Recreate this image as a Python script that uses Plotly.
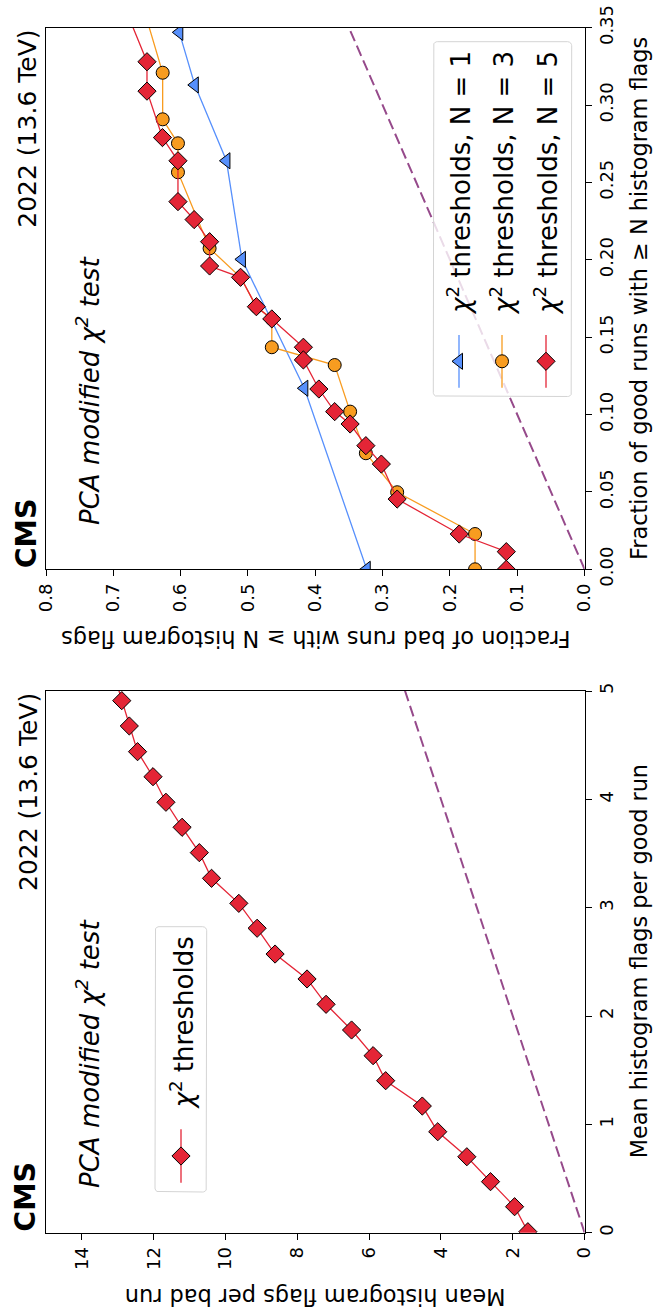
import plotly.graph_objects as go

W, H = 653, 1313

# ---------------- data ----------------
# Right-hand (top) panel: fraction of good runs (orig x) vs fraction of bad runs (orig y)
n1_good = [0.347, 0.313, 0.264, 0.2003, 0.117, 0.0]
n1_bad = [0.602, 0.579, 0.532, 0.509, 0.4163, 0.3236]

n3_good = [0.355, 0.3209, 0.2908, 0.2753, 0.2566, 0.2074, 0.1887, 0.1697, 0.1618,
           0.1435, 0.1320, 0.1019, 0.0750, 0.0498, 0.0228, 0.0]
n3_bad = [0.650, 0.6267, 0.6267, 0.604, 0.604, 0.557, 0.511, 0.4875, 0.4646,
          0.4646, 0.3712, 0.3483, 0.3249, 0.2784, 0.1627, 0.1627]

n5_good = [0.36, 0.328, 0.309, 0.279, 0.264, 0.2376, 0.226, 0.2117, 0.196, 0.1887,
           0.1697, 0.1618, 0.1435, 0.1353, 0.1165, 0.1019, 0.0939, 0.0799, 0.0680,
           0.0454, 0.0228, 0.0114, 0.0]
n5_bad = [0.68, 0.650, 0.650, 0.627, 0.604, 0.604, 0.580, 0.557, 0.557, 0.511,
          0.4875, 0.4646, 0.4177, 0.4177, 0.3947, 0.3712, 0.3483, 0.3249, 0.3019,
          0.2784, 0.1862, 0.1163, 0.1163]

diag_frac = [0.0, 1.0]

# Left-hand (bottom) panel: mean flags per good run vs mean flags per bad run
mean_good = [5.145, 4.911, 4.677, 4.440, 4.209, 3.973, 3.742, 3.508, 3.271, 3.040,
             2.810, 2.572, 2.342, 2.108, 1.871, 1.634, 1.403, 1.169, 0.932, 0.701,
             0.471, 0.240, 0.009]
mean_bad = [13.10, 12.89, 12.68, 12.45, 12.02, 11.66, 11.21, 10.73, 10.39, 9.63,
            9.12, 8.62, 7.73, 7.20, 6.49, 5.89, 5.54, 4.52, 4.09, 3.28,
            2.62, 1.95, 1.58]
diag_mean = [0.0, 20.0]

frac_ticks = [0.0, 0.1, 0.2, 0.3, 0.4, 0.5, 0.6, 0.7, 0.8]
good_frac_ticks = [0.0, 0.05, 0.10, 0.15, 0.20, 0.25, 0.30, 0.35]
mean_bad_ticks = [0, 2, 4, 6, 8, 10, 12, 14]
mean_good_ticks = [0, 1, 2, 3, 4, 5]

leg_top_labels = ["<i>χ</i><sup>2</sup> thresholds, N = 1",
                  "<i>χ</i><sup>2</sup> thresholds, N = 3",
                  "<i>χ</i><sup>2</sup> thresholds, N = 5"]
leg_bot_label = "<i>χ</i><sup>2</sup> thresholds"

# ---------------- style ----------------
BLUE, ORANGE, RED, PURPLE = "#5790fc", "#f89c20", "#e42536", "#964a8b"
FONT = "DejaVu Sans"

# page-pixel geometry
PX_L, PX_R = 46.0, 584.6
TOP_T, TOP_B = 27.7, 569.3
BOT_T, BOT_B = 691.0, 1232.7


def px(x):
    return x / W


def py(y):
    return 1 - y / H


fig = go.Figure()

# ---------- top panel (fractions) ----------
fig.add_trace(go.Scatter(x=diag_frac, y=diag_frac, mode="lines",
                         line=dict(color=PURPLE, width=2, dash="11px,5px"),
                         xaxis="x", yaxis="y", showlegend=False, hoverinfo="skip"))
fig.add_trace(go.Scatter(x=n1_bad, y=n1_good, mode="lines+markers",
                         line=dict(color=BLUE, width=1.3),
                         marker=dict(symbol="triangle-left", size=14, color=BLUE,
                                     line=dict(color="black", width=1)),
                         xaxis="x", yaxis="y", showlegend=False))
fig.add_trace(go.Scatter(x=n3_bad, y=n3_good, mode="lines+markers",
                         line=dict(color=ORANGE, width=1.3),
                         marker=dict(symbol="circle", size=13, color=ORANGE,
                                     line=dict(color="black", width=1)),
                         xaxis="x", yaxis="y", showlegend=False))
fig.add_trace(go.Scatter(x=n5_bad, y=n5_good, mode="lines+markers",
                         line=dict(color=RED, width=1.3),
                         marker=dict(symbol="diamond", size=14, color=RED,
                                     line=dict(color="black", width=1)),
                         xaxis="x", yaxis="y", showlegend=False))

# ---------- bottom panel (means) ----------
fig.add_trace(go.Scatter(x=diag_mean, y=diag_mean, mode="lines",
                         line=dict(color=PURPLE, width=2, dash="11px,5px"),
                         xaxis="x2", yaxis="y2", showlegend=False, hoverinfo="skip"))
fig.add_trace(go.Scatter(x=mean_bad, y=mean_good, mode="lines+markers",
                         line=dict(color=RED, width=1.3),
                         marker=dict(symbol="diamond", size=14, color=RED,
                                     line=dict(color="black", width=1)),
                         xaxis="x2", yaxis="y2", showlegend=False))


# ---------- hand-drawn rotated legends (overlay axes in page pixels) ----------
def rounded_rect(x0, x1, y0, y1, r=4, n=6):
    import math
    xs, ys = [], []
    corners = [(x1 - r, y0 + r, -90, 0), (x1 - r, y1 - r, 0, 90),
               (x0 + r, y1 - r, 90, 180), (x0 + r, y0 + r, 180, 270)]
    for cx, cy, a0, a1 in corners:
        for i in range(n + 1):
            a = math.radians(a0 + (a1 - a0) * i / n)
            xs.append(cx + r * math.cos(a))
            ys.append(cy + r * math.sin(a))
    xs.append(xs[0])
    ys.append(ys[0])
    return xs, ys


bx, by = rounded_rect(433.3, 571.7, 41.7, 396.5)
fig.add_trace(go.Scatter(x=bx, y=by, mode="lines", fill="toself",
                         fillcolor="rgba(255,255,255,0.8)",
                         line=dict(color="#d4d4d4", width=1),
                         xaxis="x3", yaxis="y3", showlegend=False, hoverinfo="skip"))
leg_rows = [(459.0, BLUE, "triangle-left", 14), (502.0, ORANGE, "circle", 13),
            (546.0, RED, "diamond", 14)]
for (lx, col, sym, sz) in leg_rows:
    fig.add_trace(go.Scatter(x=[lx, lx], y=[335, 387.7], mode="lines",
                             line=dict(color=col, width=1.3),
                             xaxis="x3", yaxis="y3", showlegend=False, hoverinfo="skip"))
    fig.add_trace(go.Scatter(x=[lx], y=[361.3], mode="markers",
                             marker=dict(symbol=sym, size=sz, color=col,
                                         line=dict(color="black", width=1)),
                             xaxis="x3", yaxis="y3", showlegend=False, hoverinfo="skip"))

bx2, by2 = rounded_rect(155.0, 206.7, 926.7, 1192.0)
fig.add_trace(go.Scatter(x=bx2, y=by2, mode="lines", fill="toself",
                         fillcolor="rgba(255,255,255,0.8)",
                         line=dict(color="#d4d4d4", width=1),
                         xaxis="x4", yaxis="y4", showlegend=False, hoverinfo="skip"))
fig.add_trace(go.Scatter(x=[181, 181], y=[1129.3, 1182.7], mode="lines",
                         line=dict(color=RED, width=1.3),
                         xaxis="x4", yaxis="y4", showlegend=False, hoverinfo="skip"))
fig.add_trace(go.Scatter(x=[181], y=[1156], mode="markers",
                         marker=dict(symbol="diamond", size=14, color=RED,
                                     line=dict(color="black", width=1)),
                         xaxis="x4", yaxis="y4", showlegend=False, hoverinfo="skip"))

# ---------------- axes ----------------
common = dict(showline=True, linecolor="black", linewidth=1.2, mirror=True,
              ticks="outside", ticklen=6, tickwidth=1.2, tickcolor="black",
              showgrid=False, zeroline=False, tickangle=-90, automargin=False,
              tickfont=dict(family=FONT, size=18, color="black"))
hidden = dict(visible=False, automargin=False, showgrid=False, zeroline=False)
xdom = [px(PX_L), px(PX_R)]

fig.update_layout(
    template="none",
    width=W, height=H,
    margin=dict(l=0, r=0, t=0, b=0, pad=0, autoexpand=False),
    paper_bgcolor="white", plot_bgcolor="rgba(0,0,0,0)",
    showlegend=False,
    xaxis=dict(domain=xdom, range=[0.8, 0.0], anchor="y", side="bottom",
               tickvals=frac_ticks, tickformat=".1f", **common),
    yaxis=dict(domain=[py(TOP_B), py(TOP_T)], range=[0.0, 0.35], anchor="x", side="right",
               tickvals=good_frac_ticks, tickformat=".2f", **common),
    xaxis2=dict(domain=xdom, range=[15, 0], anchor="y2", side="bottom",
                tickvals=mean_bad_ticks, **common),
    yaxis2=dict(domain=[py(BOT_B), py(BOT_T)], range=[0, 5], anchor="x2", side="right",
                tickvals=mean_good_ticks, **common),
    xaxis3=dict(overlaying="x", range=[PX_L, PX_R], anchor="y3", **hidden),
    yaxis3=dict(overlaying="y", range=[TOP_B, TOP_T], anchor="x3", **hidden),
    xaxis4=dict(overlaying="x2", range=[PX_L, PX_R], anchor="y4", **hidden),
    yaxis4=dict(overlaying="y2", range=[BOT_B, BOT_T], anchor="x4", **hidden),
)


def ann(text, x, y, size, angle=-90, xanchor="center", yanchor="middle", bold=False):
    fig.add_annotation(text=("<b>%s</b>" % text) if bold else text,
                       x=px(x), y=py(y), xref="paper", yref="paper",
                       showarrow=False, textangle=angle,
                       xanchor=xanchor, yanchor=yanchor, borderpad=0,
                       font=dict(family=FONT, size=size, color="black"))


for top, bot in [(TOP_T, TOP_B), (BOT_T, BOT_B)]:
    ann("2022 (13.6 TeV)", 28, top + 1, 25, yanchor="top")
    ann("CMS", 26, bot, 28.5, yanchor="bottom", bold=True)

ann("<i>PCA modified χ<sup>2</sup> test</i>", 88, 526, 26, yanchor="bottom")
ann("<i>PCA modified χ<sup>2</sup> test</i>", 88, 1189, 26, yanchor="bottom")

for (lx, _, _, _), lab in zip(leg_rows, leg_top_labels):
    ann(lab, lx, 316, 26, yanchor="bottom")
ann(leg_bot_label, 182, 1111, 26, yanchor="bottom")

ann("Fraction of good runs with ≥ N histogram flags", 638.5, (TOP_T + TOP_B) / 2, 22.4)
ann("Mean histogram flags per good run", 638.5, (BOT_T + BOT_B) / 2, 22.4)
ann("Fraction of bad runs with ≥ N histogram flags", (PX_L + PX_R) / 2, 639, 22.4, angle=180)
ann("Mean histogram flags per bad run", (PX_L + PX_R) / 2, 1297.5, 22.4, angle=180)

fig.write_html("out.html")
